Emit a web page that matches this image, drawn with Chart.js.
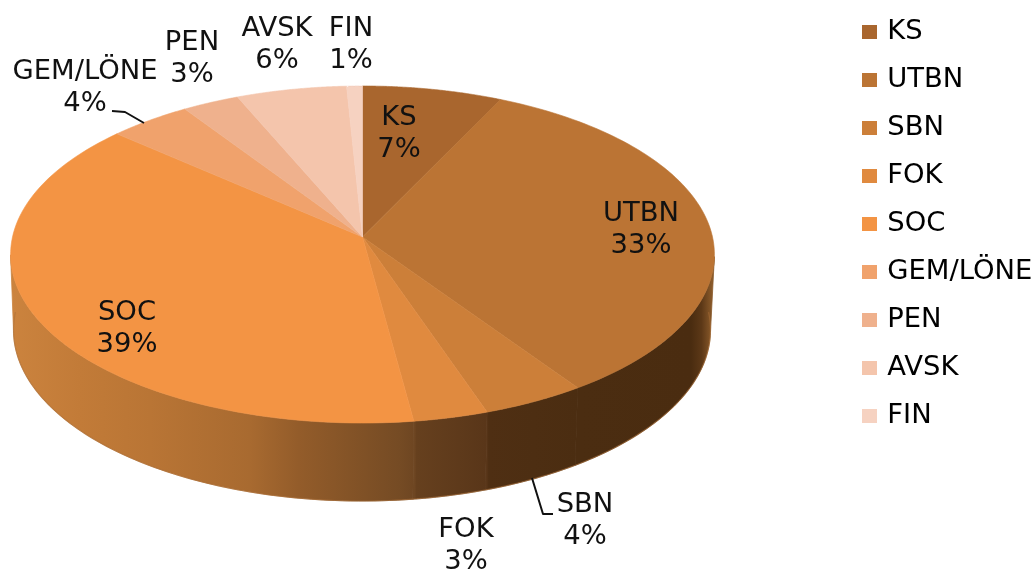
<!DOCTYPE html>
<html><head><meta charset="utf-8">
<style>html,body{margin:0;padding:0;background:#fff}canvas{display:block;filter:blur(0.45px)}</style>
<script src="https://cdn.jsdelivr.net/npm/chart.js@4/dist/chart.umd.js"></script>
</head><body><canvas id="c" width="1035" height="571"></canvas>
<script>
const categories = ['KS','UTBN','SBN','FOK','SOC','GEM/LÖNE','PEN','AVSK','FIN'];
const shares = [7.1,33.4,4.3,3.1,38.6,4.2,2.9,5.6,0.8];
const sliceColors = ['#a9662e','#bb7434','#cc7f39','#e08a3f','#f39444','#f0a26c','#efb18d','#f4c5ac','#f6d2c1'];

const FONT = '27.4px "DejaVu Sans"';
// label placement (centre x, first-line centre y)
const labelSpots = [[399,118],[641,214],[585,505],[466,530],[127,313],[85,72],[192,43],[277,29],[351,29]];
const leaders = {2:[[532,478],[543,514],[553,514]],5:[[144,123],[125,112],[112,111]]};
// perspective of the top and bottom disc
const top3d = {cx:362.5,cy:237,A:350,a:166.7,b:0.1039};
const bot3d = {cx:362,cy:312.2,A:346.6,a:169.2,b:0.1039};
const project = (p,t)=>{const s=Math.sin(t),c=Math.cos(t),d=1-p.b*s;return [p.cx+p.A*c/d,p.cy+p.a*s/d];};

const rimStops = [[0,'#cb833e'],[0.097,'#c27b38'],[0.197,'#b97535'],[0.34,'#a86a30'],[0.41,'#935c2a'],[0.554,'#754b24'],[0.575,'#6e4622'],[0.578,'#66401e'],[0.678,'#593619'],[0.681,'#4f2f13'],[0.81,'#4b2d11'],[0.97,'#4a2c10'],[0.985,'#5c3817'],[1,'#8a5a2a']];

const pie3d = {
  id:'pie3d',
  afterLayout(chart){
    const l=chart.legend;
    l.left=845;l.right=1035;l.top=-2;l.bottom=571;l.width=190;l.height=573;
  },
  beforeDatasetDraw(chart,args){
    const ctx=chart.ctx, arcs=chart.getDatasetMeta(args.index).data;
    ctx.save();
    // rim: only the part of the ring below the discs' silhouette
    const g=ctx.createLinearGradient(12,0,712,0);
    rimStops.forEach(([o,c])=>g.addColorStop(o,c));
    arcs.forEach(arc=>{
      const n=120;
      const T=[];for(let i=0;i<=n;i++)T.push(arc.startAngle+(arc.endAngle-arc.startAngle)*i/n);
      const vis=T.filter(t=>Math.sin(t)>=top3d.b);
      if(vis.length<2)return;
      ctx.beginPath();
      vis.forEach((t,i)=>{const p=project(top3d,t);i?ctx.lineTo(p[0],p[1]):ctx.moveTo(p[0],p[1]);});
      vis.slice().reverse().forEach(t=>{const p=project(bot3d,t);ctx.lineTo(p[0],p[1]);});
      ctx.closePath();ctx.fillStyle=g;ctx.fill();ctx.strokeStyle=g;ctx.lineWidth=0.8;ctx.stroke();
    });
    // pale edge along the bottom of the rim
    ctx.strokeStyle='rgba(170,110,55,0.55)';ctx.lineWidth=1.2;ctx.beginPath();
    for(let k=0;k<=180;k++){const p=project(bot3d,Math.PI*k/180);k?ctx.lineTo(p[0],p[1]):ctx.moveTo(p[0],p[1]);}
    ctx.stroke();
    // top face
    arcs.forEach((arc,i)=>{
      const n=90;
      ctx.beginPath();ctx.moveTo(top3d.cx,top3d.cy);
      for(let k=0;k<=n;k++){const p=project(top3d,arc.startAngle+(arc.endAngle-arc.startAngle)*k/n);ctx.lineTo(p[0],p[1]);}
      ctx.closePath();ctx.fillStyle=sliceColors[i];ctx.fill();
      ctx.strokeStyle=sliceColors[i];ctx.lineWidth=0.6;ctx.stroke();
    });
    // leaders
    ctx.strokeStyle='#111';ctx.lineWidth=2;ctx.lineJoin='round';
    Object.values(leaders).forEach(pts=>{ctx.beginPath();pts.forEach((p,i)=>i?ctx.lineTo(p[0],p[1]):ctx.moveTo(p[0],p[1]));ctx.stroke();});
    // labels
    const total=shares.reduce((a,b)=>a+b,0);
    ctx.font=FONT;ctx.fillStyle='#111';ctx.textAlign='center';ctx.textBaseline='middle';
    categories.forEach((name,i)=>{
      const [x,y]=labelSpots[i];
      ctx.fillText(name,x,y);
      ctx.fillText(Math.round(shares[i]/total*100)+'%',x,y+32);
    });
    ctx.restore();
    return false;
  }
};

const swatch = color=>{const s=document.createElement('canvas');s.width=15;s.height=14;const x=s.getContext('2d');x.fillStyle=color;x.fillRect(0,0,15,14);return s;};

new Chart(document.getElementById('c'),{
  type:'pie',
  data:{labels:categories,datasets:[{data:shares,backgroundColor:sliceColors,borderWidth:0}]},
  options:{
    responsive:false,animation:false,
    layout:{padding:{bottom:97}},
    plugins:{
      tooltip:{enabled:false},
      legend:{
        position:'right',align:'start',
        labels:{
          color:'#111',font:{family:'"DejaVu Sans"',size:27.4,lineHeight:1},padding:20.6,
          usePointStyle:true,pointStyleWidth:8,
          generateLabels(chart){return chart.data.labels.map((t,i)=>({text:t,fillStyle:sliceColors[i],strokeStyle:sliceColors[i],lineWidth:0,pointStyle:swatch(sliceColors[i]),index:i,hidden:false}));}
        }
      }
    }
  },
  plugins:[pie3d]
});
</script></body></html>
